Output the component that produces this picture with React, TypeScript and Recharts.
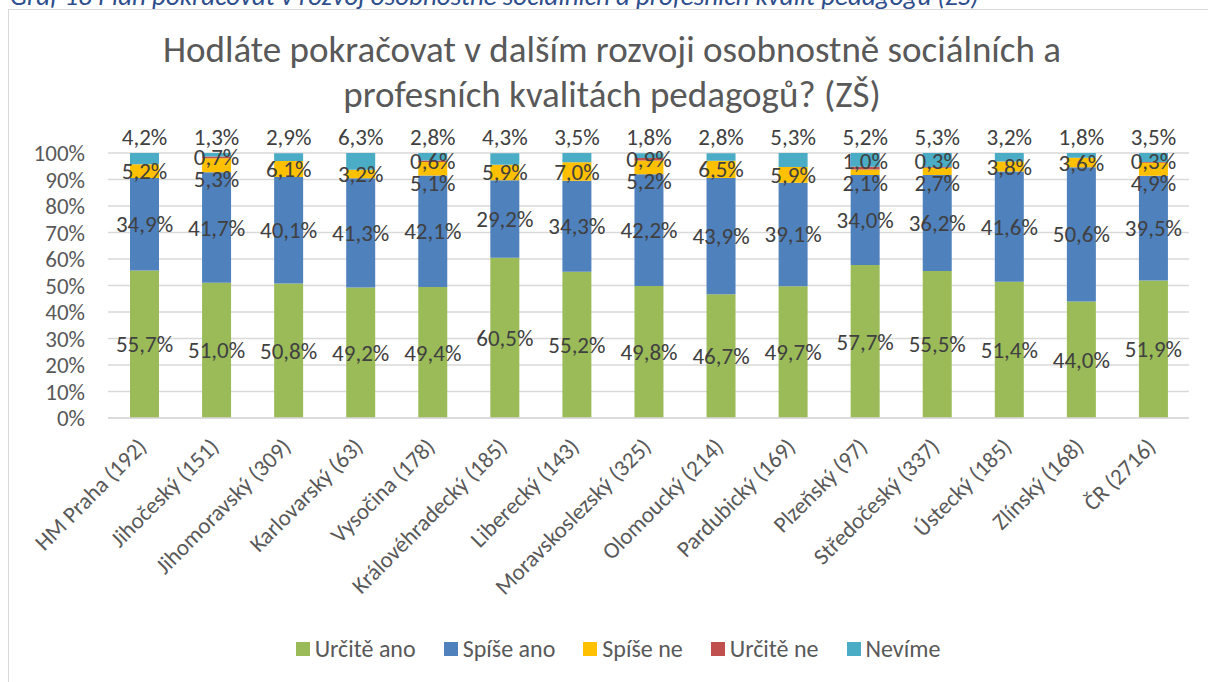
import React from 'react';
import { BarChart, Bar, XAxis, YAxis, CartesianGrid, LabelList, Legend } from 'recharts';

const categories = [
  'HM Praha (192)', 'Jihočeský (151)', 'Jihomoravský (309)', 'Karlovarský (63)', 'Vysočina (178)',
  'Královéhradecký (185)', 'Liberecký (143)', 'Moravskoslezský (325)', 'Olomoucký (214)', 'Pardubický (169)',
  'Plzeňský (97)', 'Středočeský (337)', 'Ústecký (185)', 'Zlínský (168)', 'ČR (2716)',
];
const urciteAno = [55.7, 51.0, 50.8, 49.2, 49.4, 60.5, 55.2, 49.8, 46.7, 49.7, 57.7, 55.5, 51.4, 44.0, 51.9];
const spiseAno = [34.9, 41.7, 40.1, 41.3, 42.1, 29.2, 34.3, 42.2, 43.9, 39.1, 34.0, 36.2, 41.6, 50.6, 39.5];
const spiseNe = [5.2, 5.3, 6.1, 3.2, 5.1, 5.9, 7.0, 5.2, 6.5, 5.9, 2.1, 2.7, 3.8, 3.6, 4.9];
const urciteNe = [0, 0.7, 0, 0, 0.6, 0, 0, 0.9, 0, 0, 1.0, 0.3, 0, 0, 0.3];
const nevime = [4.2, 1.3, 2.9, 6.3, 2.8, 4.3, 3.5, 1.8, 2.8, 5.3, 5.2, 5.3, 3.2, 1.8, 3.5];
const yTicks = [0, 10, 20, 30, 40, 50, 60, 70, 80, 90, 100];

const seriesNames = ['Určitě ano', 'Spíše ano', 'Spíše ne', 'Určitě ne', 'Nevíme'];
const seriesColors = ['#9BBB59', '#4F81BD', '#FFC000', '#C0504D', '#4BACC6'];

const data = categories.map((c, i) => ({
  name: c,
  a: urciteAno[i],
  b: spiseAno[i],
  c: spiseNe[i],
  d: urciteNe[i],
  e: nevime[i],
}));

const FONT = 'Carlito, Calibri, Lato, sans-serif';
const W = 1208;
const H = 682;
const TOP = 153;
const XAXIS_H = 264;
const PLOT_H = H - TOP - XAXIS_H;
const PX = PLOT_H / 100;
const LABEL_COLOR = '#404040';
const LABEL_SIZE = 23;

const fmt = (v: number) => v.toFixed(1).replace('.', ',') + '%';

const CenterLabel = (props: any) => {
  const { x, y, width, height, value } = props;
  if (!value) return null;
  return (
    <text x={x + width / 2} y={y + height / 2} textAnchor="middle" dominantBaseline="central"
      fill={LABEL_COLOR} fontSize={LABEL_SIZE} fontFamily={FONT}>{fmt(value)}</text>
  );
};

const SpiseNeLabel = (props: any) => {
  const { x, y, width, height, value, index } = props;
  if (!value) return null;
  let ly = y + height / 2;
  const dn = urciteNe[index];
  if (dn > 0) {
    const neCenter = y - (dn * PX) / 2;
    const neLabel = Math.min(neCenter, TOP + 8);
    ly = Math.max(ly, neLabel + 22);
  }
  return (
    <text x={x + width / 2} y={ly} textAnchor="middle" dominantBaseline="central"
      fill={LABEL_COLOR} fontSize={LABEL_SIZE} fontFamily={FONT}>{fmt(value)}</text>
  );
};

const UrciteNeLabel = (props: any) => {
  const { x, y, width, height, value } = props;
  if (!value) return null;
  const ly = Math.min(y + height / 2, TOP + 8);
  return (
    <text x={x + width / 2} y={ly} textAnchor="middle" dominantBaseline="central"
      fill={LABEL_COLOR} fontSize={LABEL_SIZE} fontFamily={FONT}>{fmt(value)}</text>
  );
};

const TopLabel = (props: any) => {
  const { x, y, width, value } = props;
  if (!value) return null;
  return (
    <text x={x + width / 2} y={y - 8} textAnchor="middle"
      fill={LABEL_COLOR} fontSize={LABEL_SIZE} fontFamily={FONT}>{fmt(value)}</text>
  );
};

const XTick = (props: any) => {
  const { x, y, payload } = props;
  const tx = x + 4;
  const ty = y + 30;
  return (
    <text x={tx} y={ty} textAnchor="end" transform={`rotate(-45, ${tx}, ${ty})`}
      fill="#595959" fontSize={23} fontFamily={FONT}>{payload.value}</text>
  );
};

const LegendContent = () => (
  <div style={{ display: 'flex', justifyContent: 'center', paddingLeft: 28, fontFamily: FONT, fontSize: 24, color: '#595959' }}>
    {seriesNames.map((n, i) => (
      <div key={n} style={{ display: 'flex', alignItems: 'center', marginRight: i < seriesNames.length - 1 ? 28 : 0 }}>
        <span style={{ display: 'inline-block', width: 14, height: 14, background: seriesColors[i], marginRight: 5 }} />
        <span>{n}</span>
      </div>
    ))}
  </div>
);

export default function App() {
  const keys = ['a', 'b', 'c', 'd', 'e'];
  return (
    <div style={{ position: 'absolute', left: 0, top: 0, width: W, height: H, overflow: 'hidden', background: '#fff' }}>
      <div style={{ position: 'absolute', left: 10, top: -21, fontFamily: FONT, fontStyle: 'italic', fontSize: 27, color: '#2E4E8C', whiteSpace: 'nowrap', lineHeight: 'normal' }}>
        Graf 18 Plán pokračovat v rozvoj osobnostně sociálních a profesních kvalit pedagogů (ZŠ)
      </div>
      <div style={{ position: 'absolute', left: 8, top: 9, width: 1215, height: 700, border: '1px solid #D9D9D9', boxSizing: 'border-box' }} />
      <div style={{ position: 'absolute', left: 8, top: 27, width: 1208, textAlign: 'center', fontFamily: FONT, fontSize: 37, lineHeight: '45px', color: '#595959' }}>
        Hodláte pokračovat v dalším rozvoji osobnostně sociálních a<br />profesních kvalitách pedagogů? (ZŠ)
      </div>
      <div style={{ position: 'absolute', left: 0, top: 0 }}>
        <BarChart width={W} height={H} data={data} margin={{ top: TOP, right: 19, left: 0, bottom: 0 }} barSize={29}>
          <CartesianGrid vertical={false} stroke="#D9D9D9" strokeWidth={1.5} />
          <XAxis dataKey="name" interval={0} height={XAXIS_H} tickLine={false} tickSize={0} tickMargin={0}
            axisLine={{ stroke: '#D9D9D9', strokeWidth: 1.5 }} tick={<XTick />} />
          <YAxis width={108} domain={[0, 100]} ticks={yTicks} interval={0} allowDataOverflow axisLine={false} tickLine={false}
            tickSize={0} tickMargin={23} tickFormatter={(v: number) => v + '%'}
            tick={{ fill: '#595959', fontSize: LABEL_SIZE, fontFamily: FONT }} />
          <Legend layout="horizontal" verticalAlign="middle" align="center" content={<LegendContent />}
            wrapperStyle={{ top: 634, left: 0, width: W }} />
          {keys.map((k, i) => (
            <Bar key={k} dataKey={k} name={seriesNames[i]} stackId="s" fill={seriesColors[i]} isAnimationActive={false}>
              {i === 0 || i === 1 ? <LabelList dataKey={k} content={<CenterLabel />} /> : null}
              {i === 2 ? <LabelList dataKey={k} content={<SpiseNeLabel />} /> : null}
              {i === 3 ? <LabelList dataKey={k} content={<UrciteNeLabel />} /> : null}
              {i === 4 ? <LabelList dataKey={k} content={<TopLabel />} /> : null}
            </Bar>
          ))}
        </BarChart>
      </div>
    </div>
  );
}
